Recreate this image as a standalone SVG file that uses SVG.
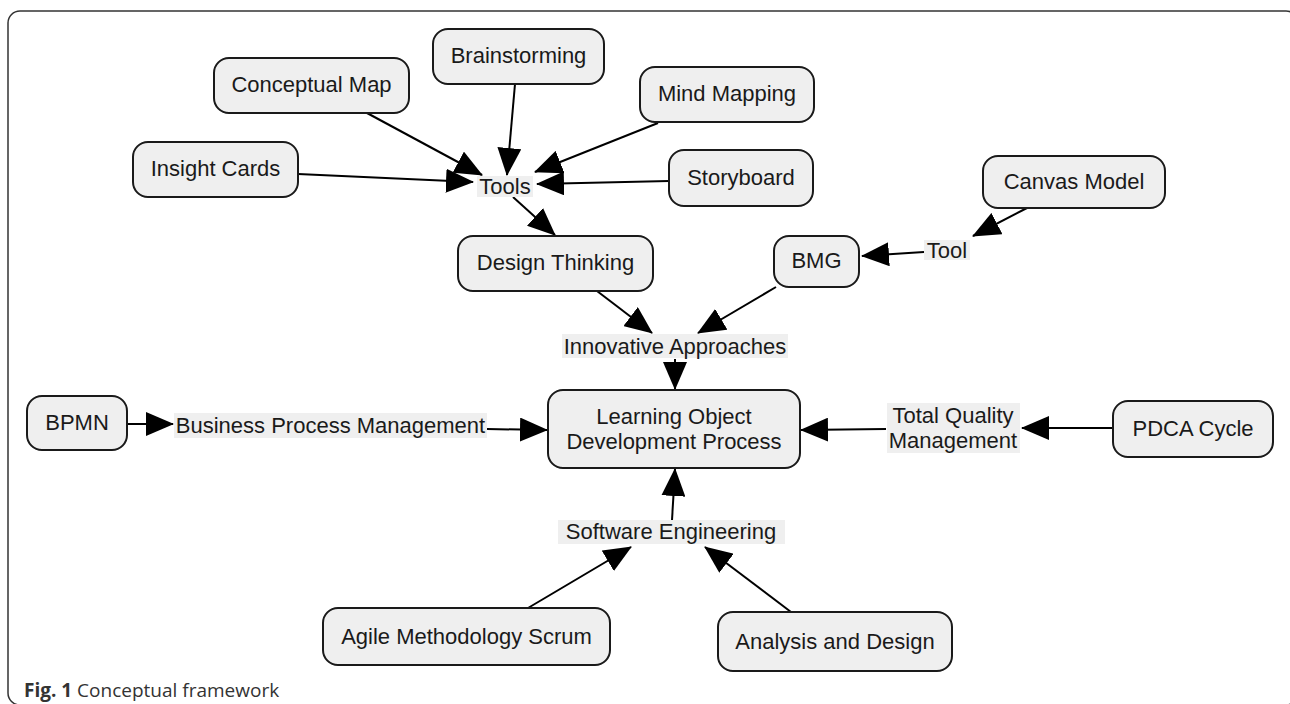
<svg xmlns="http://www.w3.org/2000/svg" width="1290" height="704" viewBox="0 0 1290 704">
<defs>
<marker id="ah" viewBox="0 0 28 24" refX="27" refY="12" markerWidth="28" markerHeight="24" orient="auto" markerUnits="userSpaceOnUse">
<path d="M0,0 L28,12 L0,24 z" fill="#000"/>
</marker>
<style>
.node rect{fill:#efefef;stroke:#1a1a1a;stroke-width:2}
.lbl rect{fill:#efefef;stroke:none}
text{font-family:"Liberation Sans",Arial,sans-serif;font-size:22px;fill:#1a1a1a;text-anchor:middle}
#connectors line{stroke:#000;stroke-width:2;marker-end:url(#ah)}
.cap{font-family:"Open Sans","Noto Sans",sans-serif;font-size:19px;fill:#333;text-anchor:start}
</style>
</defs>
<rect width="1290" height="704" fill="#fff"/>
<rect x="8" y="11" width="1290" height="694" rx="12" fill="none" stroke="#333" stroke-width="1.5"/>

<g id="connectors">
<line x1="367" y1="113" x2="482" y2="175"/>
<line x1="515" y1="84" x2="507" y2="175"/>
<line x1="658" y1="123" x2="535" y2="172"/>
<line x1="298" y1="174" x2="473" y2="182"/>
<line x1="669" y1="181" x2="537" y2="184"/>
<line x1="513" y1="197" x2="555" y2="235"/>
<line x1="1027" y1="208" x2="973" y2="236"/>
<line x1="924" y1="252" x2="862" y2="256"/>
<line x1="597" y1="291" x2="652" y2="333"/>
<line x1="776" y1="287" x2="698" y2="333"/>
<line x1="675" y1="359" x2="675" y2="389"/>
<line x1="127" y1="424" x2="173" y2="424"/>
<line x1="487" y1="429" x2="547" y2="430"/>
<line x1="1113" y1="428" x2="1022" y2="428"/>
<line x1="886" y1="429" x2="801" y2="430"/>
<line x1="672" y1="520" x2="675" y2="469"/>
<line x1="528" y1="608" x2="631" y2="547"/>
<line x1="791" y1="612" x2="705" y2="547"/>
</g>

<g id="brainstorming" class="node"><rect x="433" y="29" width="171" height="55" rx="15"/><text x="518.5" y="63">Brainstorming</text></g>
<g id="conceptual-map" class="node"><rect x="214" y="58" width="195" height="55" rx="15"/><text x="311.5" y="92">Conceptual Map</text></g>
<g id="mind-mapping" class="node"><rect x="640" y="67" width="174" height="55" rx="15"/><text x="727" y="101">Mind Mapping</text></g>
<g id="insight-cards" class="node"><rect x="133" y="142" width="165" height="55" rx="15"/><text x="215.5" y="176">Insight Cards</text></g>
<g id="storyboard" class="node"><rect x="669" y="150" width="144" height="56" rx="15"/><text x="741" y="185">Storyboard</text></g>
<g id="canvas-model" class="node"><rect x="983" y="156" width="182" height="52" rx="15"/><text x="1074" y="189">Canvas Model</text></g>
<g id="design-thinking" class="node"><rect x="458" y="236" width="195" height="55" rx="15"/><text x="555.5" y="270">Design Thinking</text></g>
<g id="bmg" class="node"><rect x="774" y="236" width="85" height="51" rx="15"/><text x="816.5" y="268">BMG</text></g>
<g id="learning-object" class="node"><rect x="548" y="390" width="252" height="78" rx="15"/><text x="674" y="424">Learning Object</text><text x="674" y="449">Development Process</text></g>
<g id="bpmn" class="node"><rect x="27" y="396" width="100" height="54" rx="15"/><text x="77" y="430">BPMN</text></g>
<g id="pdca" class="node"><rect x="1113" y="401" width="160" height="56" rx="15"/><text x="1193" y="436">PDCA Cycle</text></g>
<g id="agile" class="node"><rect x="323" y="608" width="287" height="57" rx="15"/><text x="466.5" y="644">Agile Methodology Scrum</text></g>
<g id="analysis" class="node"><rect x="718" y="612" width="234" height="59" rx="15"/><text x="835" y="649">Analysis and Design</text></g>

<g id="tools" class="lbl"><rect x="477" y="176" width="56" height="21"/><text x="505" y="194">Tools</text></g>
<g id="tool" class="lbl"><rect x="924" y="240" width="46" height="20"/><text x="947" y="258">Tool</text></g>
<g id="innovative" class="lbl"><rect x="562" y="334" width="226" height="24"/><text x="675" y="354">Innovative Approaches</text></g>
<g id="bpm" class="lbl"><rect x="174" y="413" width="313" height="25"/><text x="330.5" y="433">Business Process Management</text></g>
<g id="tqm" class="lbl"><rect x="887" y="403" width="133" height="50"/><text x="953" y="423">Total Quality</text><text x="953" y="448">Management</text></g>
<g id="software-eng" class="lbl"><rect x="558" y="520" width="227" height="24"/><text x="671" y="539">Software Engineering</text></g>

<text class="cap" x="24" y="697"><tspan font-weight="bold">Fig. 1</tspan> Conceptual framework</text>
</svg>
